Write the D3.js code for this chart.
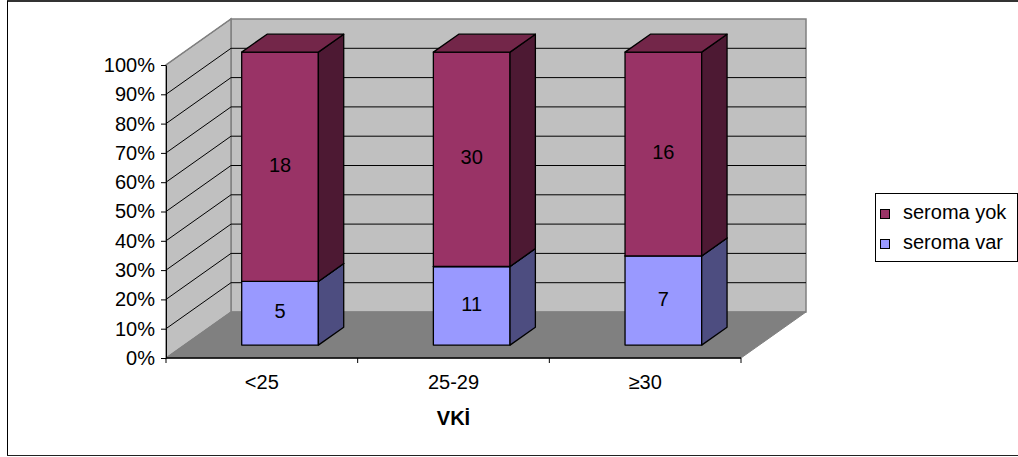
<!DOCTYPE html>
<html>
<head>
<meta charset="utf-8">
<script src="https://cdn.jsdelivr.net/npm/d3@7"></script>
<style>
  html, body { margin: 0; padding: 0; background: #fff; }
  svg { display: block; font-family: "Liberation Sans", Arial, sans-serif; }
</style>
</head>
<body>
<svg id="chart" width="1018" height="457"></svg>
<script>
// BMI groups and seroma counts
const categories = ["<25", "25-29", "≥30"];
const seromaVar = [5, 11, 7];
const seromaYok = [18, 30, 16];
const seriesNames = ["seroma var", "seroma yok"];
const yTickValues = [0, 0.1, 0.2, 0.3, 0.4, 0.5, 0.6, 0.7, 0.8, 0.9, 1];
const xTitle = "VKİ";

const rows = categories.map((c, i) => ({ cat: c, "seroma var": seromaVar[i], "seroma yok": seromaYok[i] }));
const stacked = d3.stack().keys(seriesNames).offset(d3.stackOffsetExpand)(rows);

const svg = d3.select("#chart");

// Front-plane scales
const x = d3.scaleBand().domain(categories).range([166, 741]).paddingInner(0.6).paddingOuter(0.3);
const y = d3.scaleLinear().domain([0, 1]).range([358, 65]);

// Oblique depth of the plot box
const DX = 65, DY = -46;
const off = d => [DX * d, DY * d];
const barFront = 0.28, barBack = 0.67;

const colors = {
  "seroma yok": { front: "#993366", side: "#4d1933", top: "#732649" },
  "seroma var": { front: "#9999ff", side: "#4d4d80", top: "#7373bf" }
};

const poly = pts => pts.map(p => p.join(",")).join(" ");

// Outer chart frame
const frame = svg.append("g");
frame.append("line").attr("x1", 7).attr("x2", 1018).attr("y1", 1).attr("y2", 1).attr("stroke", "#333").attr("stroke-width", 2);
frame.append("line").attr("x1", 7.5).attr("x2", 7.5).attr("y1", 1).attr("y2", 455.5).attr("stroke", "#000");
frame.append("line").attr("x1", 7).attr("x2", 1018).attr("y1", 455.5).attr("y2", 455.5).attr("stroke", "#222");

const x0 = x.range()[0], x1 = x.range()[1];
const yb = y(0), yt = y(1);

// Walls and floor
const walls = svg.append("g");
walls.append("polygon") // back wall
  .attr("points", poly([[x0 + DX, yt + DY], [x1 + DX, yt + DY], [x1 + DX, yb + DY], [x0 + DX, yb + DY]]))
  .attr("fill", "#c0c0c0").attr("stroke", "#808080").attr("stroke-width", 1.5);
walls.append("polygon") // side wall
  .attr("points", poly([[x0, yb], [x0, yt], [x0 + DX, yt + DY], [x0 + DX, yb + DY]]))
  .attr("fill", "#c0c0c0").attr("stroke", "#808080").attr("stroke-width", 1.5);
walls.append("polygon") // floor
  .attr("points", poly([[x0, yb], [x1, yb], [x1 + DX, yb + DY], [x0 + DX, yb + DY]]))
  .attr("fill", "#808080").attr("stroke", "#808080").attr("stroke-width", 1);

// Gridlines on side and back walls
const grid = svg.append("g").attr("stroke", "#000").attr("stroke-width", 1);
yTickValues.filter(v => v > 0 && v < 1).forEach(v => {
  grid.append("line").attr("x1", x0).attr("y1", y(v)).attr("x2", x0 + DX).attr("y2", y(v) + DY);
  grid.append("line").attr("x1", x0 + DX).attr("y1", y(v) + DY).attr("x2", x1 + DX).attr("y2", y(v) + DY);
});
grid.append("line").attr("x1", x0).attr("y1", y(1)).attr("x2", x0 + DX).attr("y2", y(1) + DY).attr("stroke", "#808080");

// Y axis
const yAxis = svg.append("g").attr("transform", `translate(${x0},0)`)
  .call(d3.axisLeft(y).tickValues(yTickValues).tickFormat(d3.format(".0%")).tickSize(5).tickSizeOuter(0).tickPadding(6));
yAxis.selectAll("text").attr("font-size", 20).attr("fill", "#000").attr("font-family", "Liberation Sans, Arial, sans-serif");
yAxis.selectAll("line, path").attr("stroke", "#000");

// X axis: category boundaries and labels
const xAxis = svg.append("g").attr("transform", `translate(0,${yb})`);
xAxis.append("line").attr("x1", x0).attr("x2", x1).attr("y1", 0).attr("y2", 0).attr("stroke", "#000").attr("stroke-width", 1.5);
const bounds = categories.map(c => x(c) - (x.step() - x.bandwidth()) / 2).concat([x1]);
xAxis.selectAll(".bt").data(bounds).join("line")
  .attr("x1", d => d).attr("x2", d => d).attr("y1", 0).attr("y2", 5).attr("stroke", "#000");
svg.append("g").selectAll("text").data(categories).join("text")
  .attr("x", d => x(d) + x.bandwidth() / 2).attr("y", 389)
  .attr("text-anchor", "middle").attr("font-size", 20).attr("fill", "#000")
  .text(d => d);
svg.append("text").attr("x", (x0 + x1) / 2).attr("y", 425)
  .attr("text-anchor", "middle").attr("font-size", 20).attr("font-weight", "bold").attr("fill", "#000")
  .text(xTitle);

// Stacked 3D bars
const [fdx, fdy] = off(barFront);
const [bdx, bdy] = off(barBack);
const bdxd = bdx - fdx, bdyd = bdy - fdy;
const bars = svg.append("g");
categories.forEach((c, i) => {
  const bx0 = x(c) + fdx, bx1 = x(c) + x.bandwidth() + fdx;
  stacked.forEach(layer => {
    const seg = layer[i];
    const ya = y(seg[0]) + fdy, yz = y(seg[1]) + fdy;
    const col = colors[layer.key];
    const g = bars.append("g").attr("stroke", "#000").attr("stroke-width", 1.3).attr("stroke-linejoin", "round");
    g.append("polygon").attr("points", poly([[bx0, ya], [bx1, ya], [bx1, yz], [bx0, yz]])).attr("fill", col.front);
    g.append("polygon").attr("points", poly([[bx1, ya], [bx1 + bdxd, ya + bdyd], [bx1 + bdxd, yz + bdyd], [bx1, yz]])).attr("fill", col.side);
    g.append("polygon").attr("points", poly([[bx0, yz], [bx1, yz], [bx1 + bdxd, yz + bdyd], [bx0 + bdxd, yz + bdyd]])).attr("fill", col.top);
    const value = layer.key === "seroma var" ? seromaVar[i] : seromaYok[i];
    bars.append("text").attr("x", (bx0 + bx1) / 2).attr("y", (ya + yz) / 2 + 5)
      .attr("text-anchor", "middle").attr("font-size", 20).attr("fill", "#000")
      .text(value);
  });
});

// Legend
const legend = svg.append("g");
legend.append("rect").attr("x", 875.5).attr("y", 193.5).attr("width", 142).attr("height", 68)
  .attr("fill", "#fff").attr("stroke", "#000");
const legendItems = ["seroma yok", "seroma var"];
legendItems.forEach((k, i) => {
  const by = 213 + i * 30;
  legend.append("rect").attr("x", 880.5).attr("y", by - 3.5).attr("width", 9).attr("height", 9)
    .attr("fill", colors[k].front).attr("stroke", "#000");
  legend.append("text").attr("x", 903).attr("y", by + 6).attr("font-size", 20).attr("fill", "#000").text(k);
});
</script>
</body>
</html>
